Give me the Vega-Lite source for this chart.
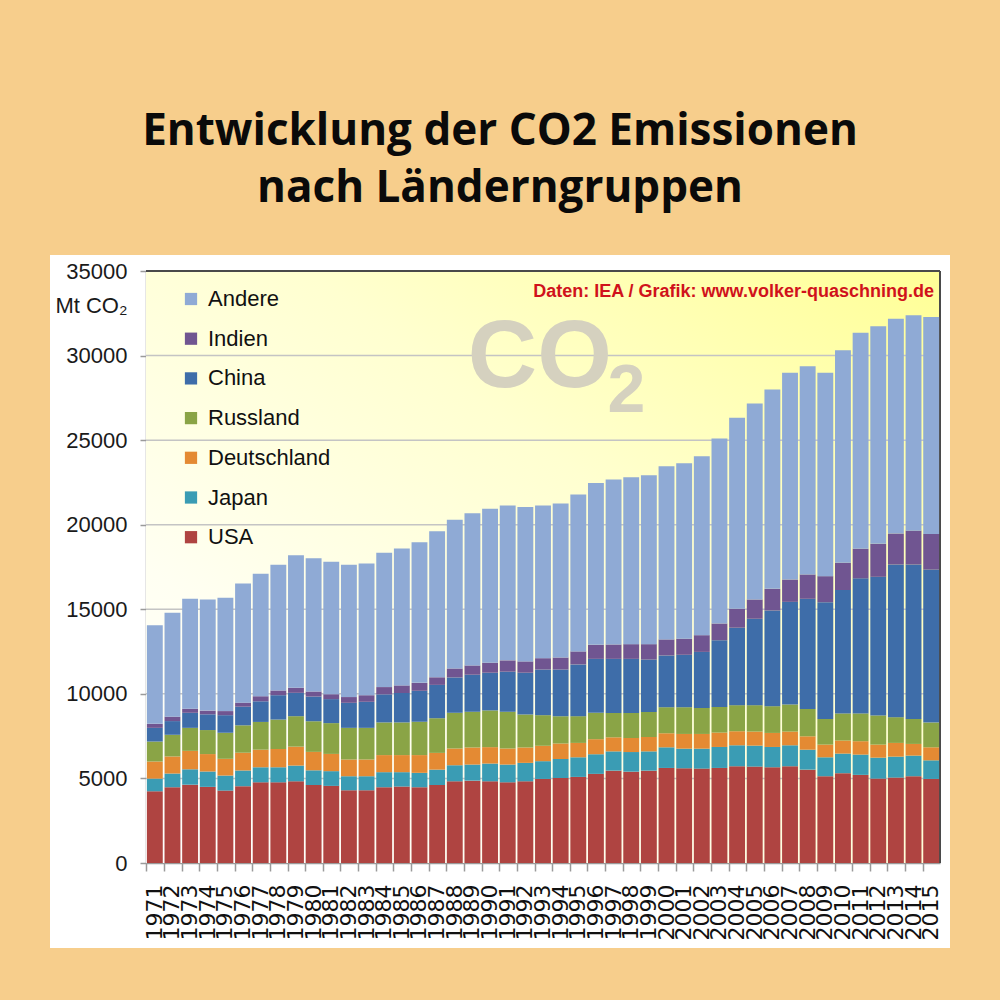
{
  "$schema": "https://vega.github.io/schema/vega-lite/v6.json",
  "width": 900,
  "height": 693,
  "autosize": {"type": "none"},
  "padding": {"left": 50, "top": 255, "right": 50, "bottom": 52},
  "background": "#F7CE8C",
  "title": {
    "text": ["Entwicklung der CO2 Emissionen", "nach Länderngruppen"],
    "anchor": "middle",
    "frame": "group",
    "font": "Open Sans",
    "fontSize": 44,
    "fontWeight": "bold",
    "color": "#0a0a0a",
    "lineHeight": 57,
    "offset": 44
  },
  "config": {
    "view": {"fill": "white", "stroke": null}
  },
  "datasets": {
    "rank": [
      {"land": "USA", "k": 1},
      {"land": "Japan", "k": 2},
      {"land": "Deutschland", "k": 3},
      {"land": "Russland", "k": 4},
      {"land": "China", "k": 5},
      {"land": "Indien", "k": 6},
      {"land": "Andere", "k": 7}
    ]
  },
  "data": {
    "values": [
      {"year": 1971, "USA": 4240, "Japan": 750, "Deutschland": 1010, "Russland": 1180, "China": 810, "Indien": 240, "Andere": 5830},
      {"year": 1972, "USA": 4480, "Japan": 810, "Deutschland": 1010, "Russland": 1280, "China": 810, "Indien": 260, "Andere": 6140},
      {"year": 1973, "USA": 4630, "Japan": 910, "Deutschland": 1090, "Russland": 1360, "China": 890, "Indien": 240, "Andere": 6500},
      {"year": 1974, "USA": 4500, "Japan": 910, "Deutschland": 1030, "Russland": 1420, "China": 930, "Indien": 220, "Andere": 6570},
      {"year": 1975, "USA": 4280, "Japan": 890, "Deutschland": 990, "Russland": 1540, "China": 1040, "Indien": 240, "Andere": 6700},
      {"year": 1976, "USA": 4540, "Japan": 930, "Deutschland": 1050, "Russland": 1620, "China": 1100, "Indien": 240, "Andere": 7050},
      {"year": 1977, "USA": 4770, "Japan": 890, "Deutschland": 1040, "Russland": 1640, "China": 1220, "Indien": 300, "Andere": 7240},
      {"year": 1978, "USA": 4770, "Japan": 890, "Deutschland": 1080, "Russland": 1740, "China": 1440, "Indien": 280, "Andere": 7430},
      {"year": 1979, "USA": 4830, "Japan": 930, "Deutschland": 1120, "Russland": 1800, "China": 1380, "Indien": 300, "Andere": 7840},
      {"year": 1980, "USA": 4610, "Japan": 870, "Deutschland": 1090, "Russland": 1810, "China": 1460, "Indien": 300, "Andere": 7880},
      {"year": 1981, "USA": 4560, "Japan": 870, "Deutschland": 1020, "Russland": 1820, "China": 1420, "Indien": 290, "Andere": 7830},
      {"year": 1982, "USA": 4300, "Japan": 830, "Deutschland": 990, "Russland": 1870, "China": 1480, "Indien": 340, "Andere": 7820},
      {"year": 1983, "USA": 4300, "Japan": 830, "Deutschland": 990, "Russland": 1870, "China": 1540, "Indien": 390, "Andere": 7790},
      {"year": 1984, "USA": 4480, "Japan": 890, "Deutschland": 1010, "Russland": 1930, "China": 1660, "Indien": 430, "Andere": 7940},
      {"year": 1985, "USA": 4520, "Japan": 850, "Deutschland": 1010, "Russland": 1930, "China": 1740, "Indien": 450, "Andere": 8090},
      {"year": 1986, "USA": 4480, "Japan": 850, "Deutschland": 1050, "Russland": 1970, "China": 1830, "Indien": 470, "Andere": 8310},
      {"year": 1987, "USA": 4610, "Japan": 910, "Deutschland": 990, "Russland": 2050, "China": 1970, "Indien": 450, "Andere": 8630},
      {"year": 1988, "USA": 4830, "Japan": 950, "Deutschland": 990, "Russland": 2110, "China": 2090, "Indien": 530, "Andere": 8800},
      {"year": 1989, "USA": 4870, "Japan": 950, "Deutschland": 1010, "Russland": 2110, "China": 2190, "Indien": 550, "Andere": 9000},
      {"year": 1990, "USA": 4830, "Japan": 1050, "Deutschland": 970, "Russland": 2170, "China": 2230, "Indien": 590, "Andere": 9100},
      {"year": 1991, "USA": 4770, "Japan": 1050, "Deutschland": 950, "Russland": 2170, "China": 2370, "Indien": 670, "Andere": 9160},
      {"year": 1992, "USA": 4830, "Japan": 1090, "Deutschland": 910, "Russland": 1950, "China": 2470, "Indien": 670, "Andere": 9120},
      {"year": 1993, "USA": 4970, "Japan": 1050, "Deutschland": 910, "Russland": 1810, "China": 2700, "Indien": 670, "Andere": 9020},
      {"year": 1994, "USA": 5030, "Japan": 1120, "Deutschland": 910, "Russland": 1620, "China": 2760, "Indien": 710, "Andere": 9100},
      {"year": 1995, "USA": 5090, "Japan": 1160, "Deutschland": 850, "Russland": 1580, "China": 3060, "Indien": 770, "Andere": 9280},
      {"year": 1996, "USA": 5270, "Japan": 1160, "Deutschland": 890, "Russland": 1560, "China": 3190, "Indien": 830, "Andere": 9570},
      {"year": 1997, "USA": 5460, "Japan": 1140, "Deutschland": 830, "Russland": 1440, "China": 3200, "Indien": 850, "Andere": 9750},
      {"year": 1998, "USA": 5400, "Japan": 1160, "Deutschland": 830, "Russland": 1480, "China": 3200, "Indien": 870, "Andere": 9870},
      {"year": 1999, "USA": 5460, "Japan": 1140, "Deutschland": 850, "Russland": 1480, "China": 3100, "Indien": 910, "Andere": 9990},
      {"year": 2000, "USA": 5620, "Japan": 1220, "Deutschland": 830, "Russland": 1540, "China": 3060, "Indien": 950, "Andere": 10240},
      {"year": 2001, "USA": 5600, "Japan": 1160, "Deutschland": 870, "Russland": 1580, "China": 3100, "Indien": 950, "Andere": 10380},
      {"year": 2002, "USA": 5580, "Japan": 1180, "Deutschland": 870, "Russland": 1540, "China": 3310, "Indien": 990, "Andere": 10580},
      {"year": 2003, "USA": 5620, "Japan": 1240, "Deutschland": 850, "Russland": 1520, "China": 3940, "Indien": 990, "Andere": 10930},
      {"year": 2004, "USA": 5720, "Japan": 1240, "Deutschland": 830, "Russland": 1540, "China": 4580, "Indien": 1120, "Andere": 11290},
      {"year": 2005, "USA": 5700, "Japan": 1240, "Deutschland": 830, "Russland": 1560, "China": 5110, "Indien": 1140, "Andere": 11580},
      {"year": 2006, "USA": 5660, "Japan": 1200, "Deutschland": 830, "Russland": 1580, "China": 5660, "Indien": 1280, "Andere": 11780},
      {"year": 2007, "USA": 5720, "Japan": 1240, "Deutschland": 810, "Russland": 1600, "China": 6070, "Indien": 1320, "Andere": 12220},
      {"year": 2008, "USA": 5520, "Japan": 1180, "Deutschland": 790, "Russland": 1620, "China": 6510, "Indien": 1440, "Andere": 12310},
      {"year": 2009, "USA": 5130, "Japan": 1120, "Deutschland": 750, "Russland": 1520, "China": 6900, "Indien": 1540, "Andere": 12020},
      {"year": 2010, "USA": 5310, "Japan": 1160, "Deutschland": 770, "Russland": 1600, "China": 7300, "Indien": 1610, "Andere": 12570},
      {"year": 2011, "USA": 5210, "Japan": 1200, "Deutschland": 790, "Russland": 1640, "China": 7990, "Indien": 1750, "Andere": 12770},
      {"year": 2012, "USA": 4990, "Japan": 1240, "Deutschland": 770, "Russland": 1720, "China": 8200, "Indien": 1950, "Andere": 12870},
      {"year": 2013, "USA": 5050, "Japan": 1240, "Deutschland": 810, "Russland": 1520, "China": 9030, "Indien": 1830, "Andere": 12700},
      {"year": 2014, "USA": 5130, "Japan": 1220, "Deutschland": 690, "Russland": 1480, "China": 9130, "Indien": 2000, "Andere": 12740},
      {"year": 2015, "USA": 4970, "Japan": 1100, "Deutschland": 770, "Russland": 1460, "China": 9050, "Indien": 2100, "Andere": 12830}
    ]
  },
  "layer": [
    {
      "data": {"values": [{}]},
      "layer": [
        {
          "mark": {
            "type": "rect",
            "color": {
              "gradient": "linear", "x1": 1, "y1": 0, "x2": 0, "y2": 1,
              "stops": [
                {"offset": 0, "color": "#FFFF96"},
                {"offset": 0.4, "color": "#FFFFD0"},
                {"offset": 0.75, "color": "#FFFFF2"},
                {"offset": 1, "color": "#FFFFFF"}
              ]
            }
          },
          "encoding": {
            "x": {"datum": 0, "type": "quantitative", "scale": {"domain": [0, 1], "range": [96, 890]}, "axis": null},
            "x2": {"datum": 1},
            "y": {"datum": 0, "type": "quantitative"},
            "y2": {"datum": 35000}
          }
        },
        {
          "data": {"values": [{"g": 5000}, {"g": 10000}, {"g": 15000}, {"g": 20000}, {"g": 25000}, {"g": 30000}]},
          "mark": {"type": "rule", "color": "#C4C4C4", "strokeWidth": 1.5},
          "encoding": {
            "x": {"datum": 0, "type": "quantitative", "axis": null},
            "x2": {"datum": 1},
            "y": {"field": "g", "type": "quantitative"}
          }
        },
        {
          "mark": {"type": "text", "text": "CO", "font": "Liberation Sans", "fontWeight": "bold", "fontSize": 96, "color": "#D5D1BF", "align": "center", "baseline": "alphabetic"},
          "encoding": {
            "x": {"datum": 0.496, "type": "quantitative", "axis": null},
            "y": {"datum": 28170, "type": "quantitative"}
          }
        },
        {
          "mark": {"type": "text", "text": "2", "font": "Liberation Sans", "fontWeight": "bold", "fontSize": 68, "color": "#D5D1BF", "align": "center", "baseline": "alphabetic"},
          "encoding": {
            "x": {"datum": 0.605, "type": "quantitative", "axis": null},
            "y": {"datum": 26690, "type": "quantitative"}
          }
        },
        {
          "mark": {"type": "text", "text": "Daten: IEA / Grafik: www.volker-quaschning.de", "font": "Liberation Sans", "fontWeight": "bold", "fontSize": 18, "color": "#D0121B", "align": "right", "baseline": "alphabetic", "dx": -6, "dy": 26},
          "encoding": {
            "x": {"datum": 1, "type": "quantitative", "axis": null},
            "y": {"datum": 35000, "type": "quantitative"}
          }
        },
        {
          "mark": {"type": "rule", "color": "#4A4A4A", "strokeWidth": 2},
          "encoding": {
            "x": {"datum": 0, "type": "quantitative", "axis": null},
            "x2": {"datum": 1},
            "y": {"datum": 35000, "type": "quantitative"}
          }
        },
        {
          "mark": {"type": "rule", "color": "#4A4A4A", "strokeWidth": 2},
          "encoding": {
            "x": {"datum": 1, "type": "quantitative", "axis": null},
            "y": {"datum": 0, "type": "quantitative"},
            "y2": {"datum": 35000}
          }
        }
      ]
    },
    {
      "transform": [
        {"fold": ["USA", "Japan", "Deutschland", "Russland", "China", "Indien", "Andere"], "as": ["land", "mt"]},
        {"lookup": "land", "from": {"data": {"name": "rank"}, "key": "land", "fields": ["k"]}}
      ],
      "mark": {"type": "bar"},
      "encoding": {
        "x": {
          "field": "year", "type": "ordinal",
          "scale": {"range": [96, 890], "paddingInner": 0.1, "paddingOuter": 0.05},
          "axis": {
            "orient": "bottom", "title": null, "offset": -85, "labelAngle": 270,
            "labelFont": "DejaVu Sans", "labelFontSize": 22, "labelColor": "#111111",
            "labelPadding": 13, "tickSize": 8, "bandPosition": 0,
            "domainColor": "#9A9A9A", "tickColor": "#9A9A9A", "domainWidth": 1.5, "tickWidth": 1.5,
            "labelOverlap": false, "grid": false
          }
        },
        "y": {
          "field": "mt", "type": "quantitative", "stack": "zero",
          "scale": {"domain": [0, 35000], "range": [608, 16], "nice": false},
          "axis": {
            "orient": "left",
            "values": [0, 5000, 10000, 15000, 20000, 25000, 30000, 35000],
            "format": "d", "grid": false, "offset": -96,
            "domainColor": "#9A9A9A", "tickColor": "#9A9A9A", "domainWidth": 1.5, "tickWidth": 1.5, "tickSize": 6,
            "labelFont": "Liberation Sans", "labelFontSize": 22, "labelColor": "#1A1A1A", "labelPadding": 13,
            "labelFlush": false, "labelOverlap": false,
            "title": "Mt CO₂", "titleAngle": 0, "titleAlign": "right", "titleBaseline": "alphabetic",
            "titleX": -19, "titleY": 57, "titleFont": "Liberation Sans", "titleFontSize": 22,
            "titleFontWeight": "normal", "titleColor": "#1A1A1A"
          }
        },
        "color": {
          "field": "land", "type": "nominal",
          "scale": {
            "domain": ["Andere", "Indien", "China", "Russland", "Deutschland", "Japan", "USA"],
            "range": ["#8FAAD5", "#705591", "#3E6DA9", "#8AA446", "#E48A33", "#3A9CB4", "#AF4441"]
          },
          "legend": {
            "orient": "none", "legendX": 130, "legendY": 33, "title": null,
            "symbolType": "square", "symbolSize": 150, "symbolStrokeWidth": 0, "symbolOpacity": 1,
            "labelFont": "Liberation Sans", "labelFontSize": 22, "labelColor": "#111111",
            "rowPadding": 17.7, "labelOffset": 6, "padding": 0
          }
        },
        "order": {"field": "k", "type": "quantitative"}
      }
    }
  ],
  "resolve": {"scale": {"x": "independent"}}
}
